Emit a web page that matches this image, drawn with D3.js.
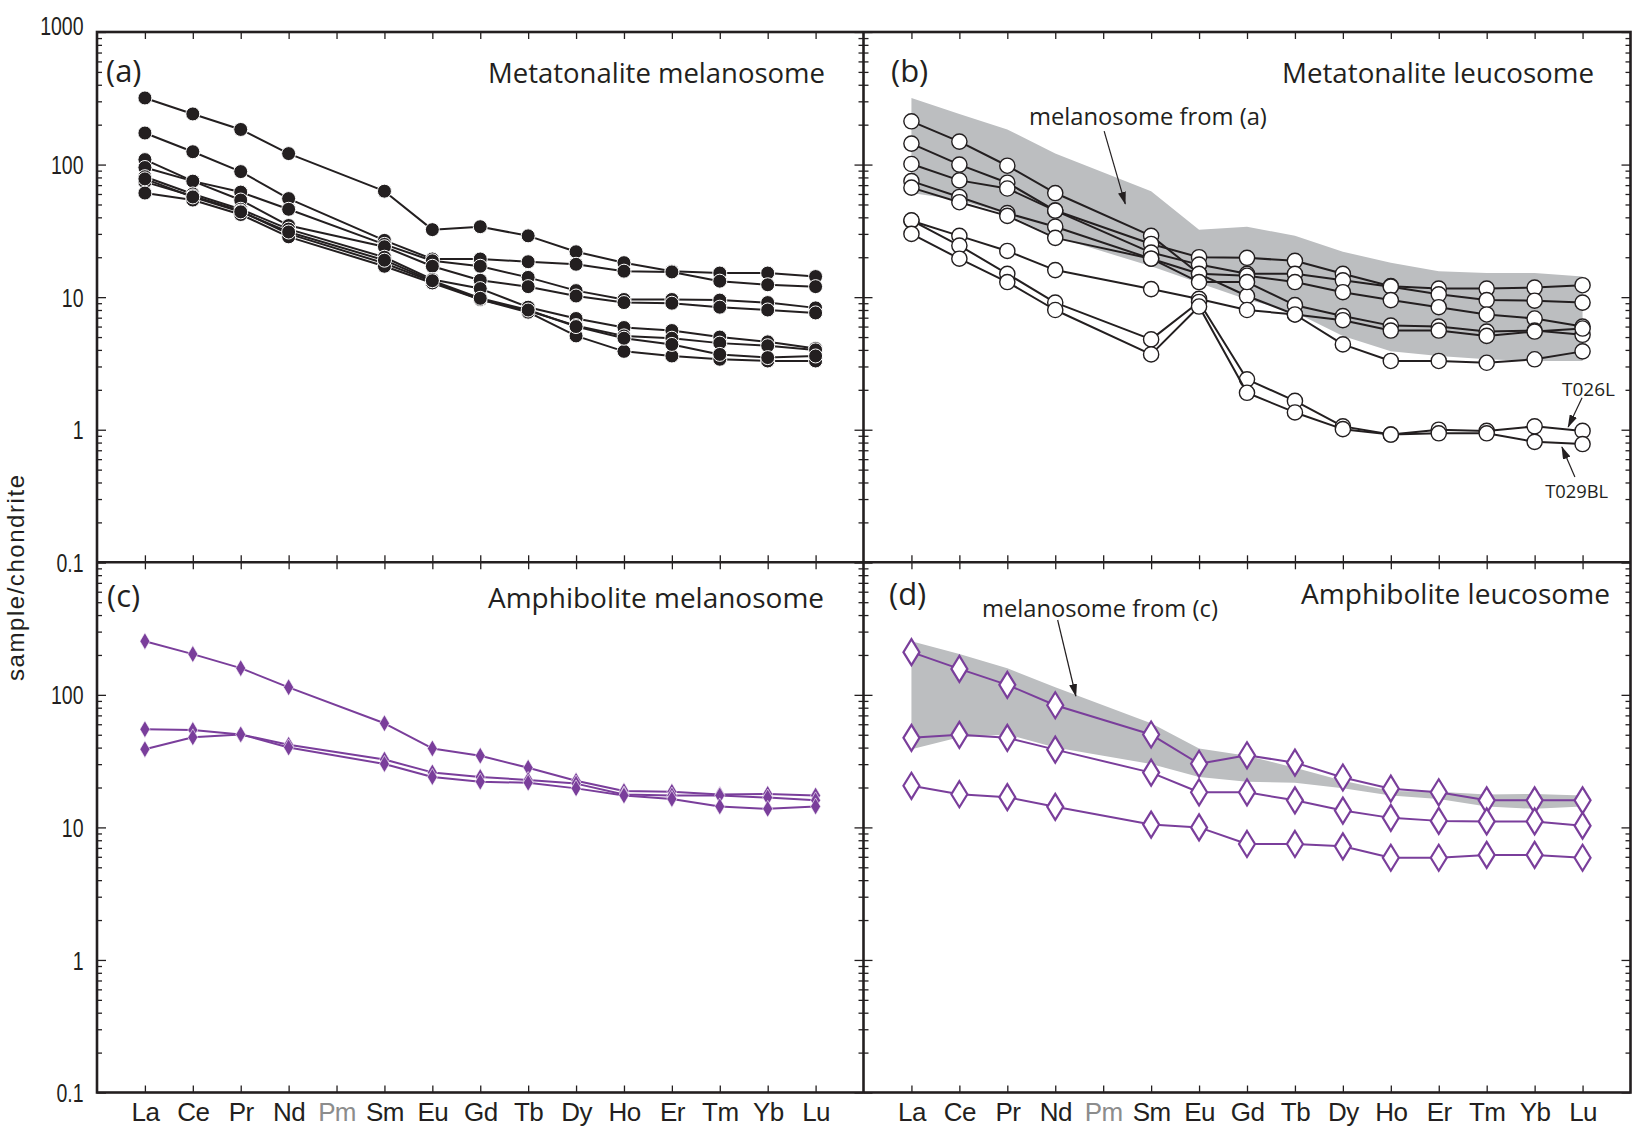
<!DOCTYPE html>
<html><head><meta charset="utf-8">
<script src="https://cdn.jsdelivr.net/npm/d3@7"></script>
<style>body{margin:0;background:#fff}svg{display:block}</style>
</head><body>
<svg id="chart" width="1632" height="1131"></svg>
<script>
// ---------- DATA ----------
const elements = ["La","Ce","Pr","Nd","Pm","Sm","Eu","Gd","Tb","Dy","Ho","Er","Tm","Yb","Lu"];
const yTickLabelsTop = [1000,100,10,1,0.1];
const yTickLabelsBottom = [100,10,1,0.1];

// (a) Metatonalite melanosome
const tonMel1 = [318,241,184,121,null,63,32.3,34,29,22,18.2,15.7,15.2,15.2,14.3];
const tonMel2 = [173,125,88.5,55.4,null,26.8,19.4,19.4,18.5,17.7,15.7,15.5,13.2,12.4,12.0];
const tonMel3 = [109,75,62,46,null,25,18.8,17.1,14.1,11.2,9.6,9.6,9.5,9.1,8.3];
const tonMel4 = [95,75,54,34.7,null,24,17.1,13.4,12,10.2,9.1,9.0,8.4,8.0,7.6];
const tonMel5 = [81,60,46,32.6,null,20,13.6,11.6,8.4,6.9,5.9,5.6,5.0,4.6,4.1];
const tonMel6 = [74,58,44.6,30,null,18,13.1,9.6,7.9,6.1,5.1,4.9,4.5,4.3,4.0];
const tonMel7 = [61,54,42,28.5,null,17.1,12.8,9.6,7.7,5.1,3.9,3.6,3.4,3.3,3.3];
const tonMel8 = [78,57,44,31,null,19,13.3,9.8,8,6,4.9,4.4,3.7,3.5,3.6];

// (b) Metatonalite leucosome
const tonLeu1 = [212,149,98,61,null,29,15,10.2,7.4,4.4,3.3,3.3,3.2,3.4,3.9];
const tonLeu2 = [144,100,73,45,null,25.2,20,19.8,18.8,15,12.1,11.6,11.6,11.8,12.3];
const tonLeu3 = [101,76,66,45,null,21.7,17.6,15,15,13.4,12,10.5,9.5,9.4,9.1];
const tonLeu4 = [75,57,43,34,null,19.5,15,14.5,13,10.9,9.5,8.4,7.4,6.9,6.0];
const tonLeu5 = [67,52,41,28,null,19.5,13,13,8.7,7.2,6.1,6.0,5.5,5.6,5.2];
const tonLeu6 = [37.7,29,22.3,16,null,11.5,9.7,8,7.4,6.7,5.6,5.6,5.1,5.5,5.8];
const T026L  = [38,24.5,15,9.1,null,4.8,9.2,2.4,1.65,1.06,0.92,1.0,0.98,1.06,0.98];
const T029BL = [30,19.5,13,8,null,3.7,8.5,1.9,1.35,1.01,0.92,0.94,0.94,0.81,0.78];

// (c) Amphibolite melanosome
const amphMel1 = [254,203,159,114,null,61,39.4,34.7,28.2,22.5,18.8,18.6,17.7,17.9,17.4];
const amphMel2 = [55,54.3,50.3,42,null,32.5,26,24,22.8,21.4,17.7,17.4,17.4,16.8,16];
const amphMel3 = [38.9,47.8,50.3,40.1,null,30.1,24,22.1,21.7,19.7,17.4,16.4,14.4,13.8,14.4];

// (d) Amphibolite leucosome
const amphLeu1 = [210,157,119,83.5,null,50.2,30.2,35,30.8,23.8,19.6,18.4,16,16,16];
const amphLeu2 = [47.4,49.9,47.4,38.6,null,25.9,18.4,18.4,16,13.4,11.8,11.2,11.1,11.1,10.3];
const amphLeu3 = [20.6,17.8,16.9,14.3,null,10.5,10,7.5,7.5,7.2,5.9,5.9,6.2,6.2,5.9];

const tonMelSeries = [tonMel1,tonMel2,tonMel3,tonMel4,tonMel5,tonMel6,tonMel7,tonMel8];
const tonLeuSeries = [tonLeu1,tonLeu2,tonLeu3,tonLeu4,tonLeu5,tonLeu6,T026L,T029BL];
const amphMelSeries = [amphMel1,amphMel2,amphMel3];
const amphLeuSeries = [amphLeu1,amphLeu2,amphLeu3];

// ---------- LAYOUT ----------
const INK = "#231f20", PURPLE = "#7a3e9b", BAND = "#bcbec0";
const X0 = 97, XM = 863.5, X1 = 1630.5, Y0 = 32, YM = 562.3, Y1 = 1092.5;
const svg = d3.select("#chart");

const defs = svg.append("defs");
defs.append("marker").attr("id","ah").attr("markerUnits","userSpaceOnUse")
  .attr("markerWidth",13).attr("markerHeight",8).attr("refX",12).attr("refY",4)
  .attr("orient","auto")
  .append("path").attr("d","M0,0 L13,4 L0,8 Z").attr("fill",INK);

function envelope(series) {
  return elements.map((e,i) => {
    const vals = series.map(s => s[i]).filter(v => v != null);
    return vals.length ? {i, lo: d3.min(vals), hi: d3.max(vals)} : null;
  }).filter(d => d);
}

const panels = [
  {key:"a", xr:[X0,XM], yr:[Y0,YM], series:tonMelSeries, mark:"dot", color:INK,
   tag:"(a)", tagX:106, tagY:82, title:"Metatonalite melanosome", titleX:488, titleW:337, titleY:83,
   yLabels:yTickLabelsTop, bottomLabels:false, band:null},
  {key:"b", xr:[XM,X1], yr:[Y0,YM], series:tonLeuSeries, mark:"ring", color:INK,
   tag:"(b)", tagX:891, tagY:82, title:"Metatonalite leucosome", titleX:1282, titleW:312, titleY:83,
   yLabels:[], bottomLabels:false, band:tonMelSeries},
  {key:"c", xr:[X0,XM], yr:[YM,Y1], series:amphMelSeries, mark:"diamond", color:PURPLE,
   tag:"(c)", tagX:107, tagY:607, title:"Amphibolite melanosome", titleX:488, titleW:336, titleY:608,
   yLabels:yTickLabelsBottom, bottomLabels:true, band:null},
  {key:"d", xr:[XM,X1], yr:[YM,Y1], series:amphLeuSeries, mark:"openDiamond", color:PURPLE,
   tag:"(d)", tagX:889, tagY:605, title:"Amphibolite leucosome", titleX:1301, titleW:309, titleY:604,
   yLabels:[], bottomLabels:true, band:amphMelSeries}
];

const majorTicks = [0.1,1,10,100,1000];
const minorTicks = [];
[-1,0,1,2].forEach(k => { for (let m=2;m<=9;m++) minorTicks.push(m*Math.pow(10,k)); });

const scales = {};
const YLAB_SX = 0.75;

panels.forEach(p => {
  const g = svg.append("g");
  const x = d3.scaleLinear().domain([-1,15]).range(p.xr);
  const y = d3.scaleLog().domain([0.1,1000]).range([p.yr[1], p.yr[0]]);
  scales[p.key] = {x,y};

  if (p.band) {
    const env = envelope(p.band);
    const area = d3.area().x(d => x(d.i)).y0(d => y(d.lo)).y1(d => y(d.hi));
    g.append("path").datum(env).attr("d", area).attr("fill", BAND);
  }

  const styleAxis = sel => {
    sel.select(".domain").remove();
    sel.selectAll(".tick line").attr("stroke", INK).attr("stroke-width", 1.3);
  };

  // y axes: left (inward) & right (inward)
  g.append("g").attr("transform",`translate(${p.xr[0]},0)`)
    .call(d3.axisLeft(y).tickValues(majorTicks).tickSize(-9).tickPadding(13.5)
      .tickFormat(d => p.yLabels.includes(d) ? String(d) : ""))
    .call(styleAxis)
    .call(s => s.selectAll("text").attr("font-family","'Liberation Sans', Arial, sans-serif")
      .attr("font-size",26).attr("fill",INK)
      .attr("x", -13.5 / YLAB_SX).attr("transform", `scale(${YLAB_SX},1)`)
      .attr("dy", d => d === 1000 ? "0.1em" : "0.35em"));
  g.append("g").attr("transform",`translate(${p.xr[0]},0)`)
    .call(d3.axisLeft(y).tickValues(minorTicks).tickSize(-5).tickFormat(""))
    .call(styleAxis);
  g.append("g").attr("transform",`translate(${p.xr[1]},0)`)
    .call(d3.axisRight(y).tickValues(majorTicks).tickSize(-9).tickFormat(""))
    .call(styleAxis);
  g.append("g").attr("transform",`translate(${p.xr[1]},0)`)
    .call(d3.axisRight(y).tickValues(minorTicks).tickSize(-5).tickFormat(""))
    .call(styleAxis);

  // x axes: top & bottom (inward)
  g.append("g").attr("transform",`translate(0,${p.yr[0]})`)
    .call(d3.axisTop(x).tickValues(d3.range(elements.length)).tickSize(-7).tickFormat(""))
    .call(styleAxis);
  g.append("g").attr("transform",`translate(0,${p.yr[1]})`)
    .call(d3.axisBottom(x).tickValues(d3.range(elements.length)).tickSize(-7).tickPadding(10)
      .tickFormat(i => p.bottomLabels ? elements[i] : ""))
    .call(styleAxis)
    .call(s => s.selectAll("text").attr("font-family","'Liberation Sans', Arial, sans-serif")
      .attr("font-size",26).attr("letter-spacing","-0.6px")
      .attr("fill", i => elements[i] === "Pm" ? "#8c8c8c" : INK));

  // series
  const line = d3.line().x(d => x(d.i)).y(d => y(d.v));
  p.series.forEach(s => {
    const pts = s.map((v,i) => ({i,v})).filter(d => d.v != null);
    g.append("path").datum(pts).attr("d", line).attr("fill","none")
      .attr("stroke", p.color).attr("stroke-width", 2).attr("stroke-linejoin","round");
    const m = g.selectAll(null).data(pts).enter();
    if (p.mark === "dot") {
      m.append("circle").attr("cx", d => x(d.i)).attr("cy", d => y(d.v)).attr("r", 7)
        .attr("fill", INK).attr("stroke", "#fff").attr("stroke-width", 1);
    } else if (p.mark === "ring") {
      m.append("circle").attr("cx", d => x(d.i)).attr("cy", d => y(d.v)).attr("r", 7.6)
        .attr("fill", "#fff").attr("stroke", INK).attr("stroke-width", 1.4);
    } else if (p.mark === "diamond") {
      m.append("path").attr("transform", d => `translate(${x(d.i)},${y(d.v)})`)
        .attr("d","M0,-8.5L5,0L0,8.5L-5,0Z").attr("fill", p.color)
        .attr("stroke","#fff").attr("stroke-width",0.6);
    } else {
      m.append("path").attr("transform", d => `translate(${x(d.i)},${y(d.v)})`)
        .attr("d","M0,-13L8,0L0,13L-8,0Z").attr("fill","#fff")
        .attr("stroke", p.color).attr("stroke-width", 2.2);
    }
  });

  // panel texts
  g.append("text").attr("x", p.tagX).attr("y", p.tagY).text(p.tag)
    .attr("font-family","'Open Sans', sans-serif").attr("font-size",31).attr("fill",INK);
  g.append("text").attr("x", p.titleX).attr("y", p.titleY).text(p.title)
    .attr("textLength", p.titleW).attr("lengthAdjust","spacingAndGlyphs")
    .attr("font-family","'Open Sans', sans-serif").attr("font-size",27).attr("fill",INK);
});

// frames
svg.append("rect").attr("x",X0).attr("y",Y0).attr("width",X1-X0).attr("height",Y1-Y0)
  .attr("fill","none").attr("stroke",INK).attr("stroke-width",2.6);
svg.append("line").attr("x1",XM).attr("x2",XM).attr("y1",Y0).attr("y2",Y1)
  .attr("stroke",INK).attr("stroke-width",2.6);
svg.append("line").attr("x1",X0).attr("x2",X1).attr("y1",YM).attr("y2",YM)
  .attr("stroke",INK).attr("stroke-width",2.6);

// y-axis title
svg.append("text").attr("transform","translate(24,578) rotate(-90)")
  .attr("text-anchor","middle").text("sample/chondrite")
  .attr("textLength",206).attr("lengthAdjust","spacing")
  .attr("font-family","'Liberation Sans', Arial, sans-serif").attr("font-size",24).attr("fill",INK);

// annotations (positioned in data space)
const annos = [
  {p:"b", text:"melanosome from (a)", tx:2.45, tv:199, w:238, fs:24, from:[4.02,179], to:[4.46,50.5]},
  {p:"b", text:"T026L", tx:13.57, tv:1.8, w:53, fs:19, from:[13.99,1.74], to:[13.70,1.05]},
  {p:"b", text:"T029BL", tx:13.22, tv:0.306, w:63, fs:19, from:[13.84,0.44], to:[13.57,0.74]},
  {p:"d", text:"melanosome from (c)", tx:1.47, tv:387, w:236, fs:24, from:[3.05,367], to:[3.43,98]}
];
annos.forEach(a => {
  const {x,y} = scales[a.p];
  svg.append("text").attr("x", x(a.tx)).attr("y", y(a.tv)).text(a.text)
    .attr("textLength", a.w).attr("lengthAdjust","spacingAndGlyphs")
    .attr("font-family","'Open Sans', sans-serif").attr("font-size", a.fs).attr("fill", INK);
  svg.append("line").attr("x1", x(a.from[0])).attr("y1", y(a.from[1]))
    .attr("x2", x(a.to[0])).attr("y2", y(a.to[1]))
    .attr("stroke", INK).attr("stroke-width", 1.2).attr("marker-end","url(#ah)");
});
</script>
</body></html>
